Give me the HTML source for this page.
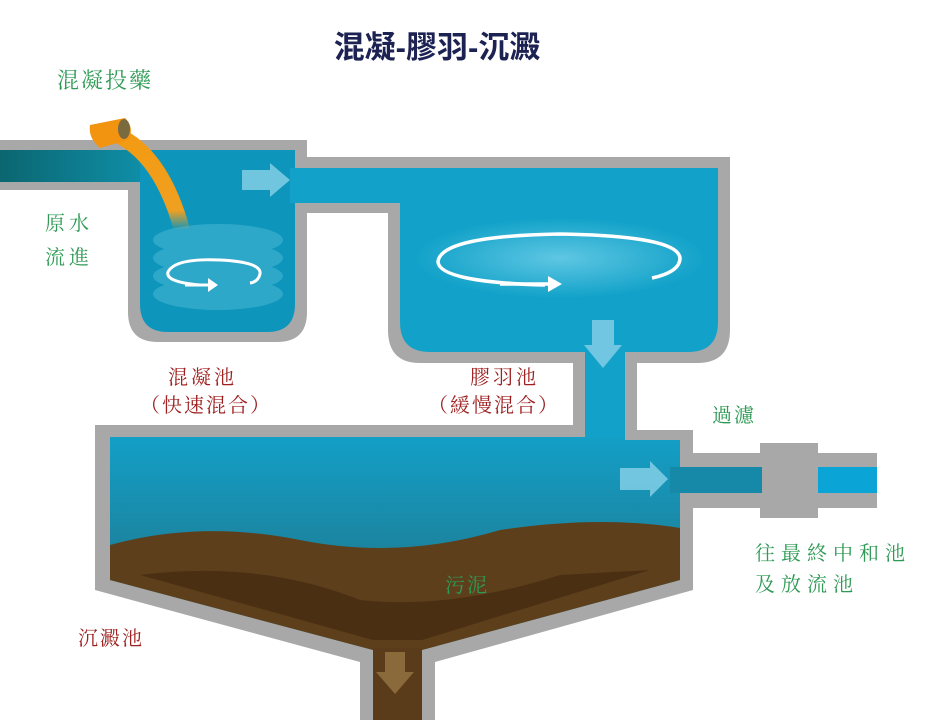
<!DOCTYPE html>
<html><head><meta charset="utf-8"><style>
html,body{margin:0;padding:0;background:#fff;width:940px;height:720px;overflow:hidden}
svg{display:block}
text{font-family:"Liberation Serif","Noto Serif CJK SC","Noto Sans CJK TC",serif}
.g{fill:#2f9a55;font-size:20px}
.r{fill:#9e2020;font-size:20px}
</style></head><body>
<svg width="940" height="720" viewBox="0 0 940 720">
<defs>
<linearGradient id="sed" x1="0" y1="0" x2="0" y2="1">
<stop offset="0" stop-color="#139fc7"/><stop offset="1" stop-color="#236c7c"/></linearGradient>
<linearGradient id="inl" x1="0" y1="0" x2="1" y2="0">
<stop offset="0" stop-color="#0b6670"/><stop offset="1" stop-color="#0f8fa8"/></linearGradient>
<linearGradient id="or" x1="0" y1="0" x2="0" y2="1">
<stop offset="0" stop-color="#f39a12"/><stop offset="0.8" stop-color="#f0a020"/><stop offset="1" stop-color="#f0a020" stop-opacity="0"/></linearGradient>
<radialGradient id="glow" cx="0.5" cy="0.5" r="0.5">
<stop offset="0" stop-color="#7fd6ee" stop-opacity="0.7"/><stop offset="1" stop-color="#7fd6ee" stop-opacity="0"/></radialGradient>
</defs>
<g fill="#a8a8a8">
<rect x="0" y="140" width="307" height="50"/>
<path d="M128 140 H307 V312 Q307 342 277 342 H158 Q128 342 128 312 Z"/>
<rect x="295" y="157" width="110" height="56"/>
<path d="M388 157 H730 V330 Q730 363 697 363 H420 Q388 363 388 330 Z"/>
<rect x="573" y="355" width="64" height="80"/>
<path d="M95 425 H587 V430 H693 V590 L435 662 V720 H360 V662 L95 590 Z"/>
<rect x="680" y="453" width="90" height="55"/>
<rect x="760" y="443" width="58" height="75"/>
<rect x="815" y="453" width="62" height="55"/>
</g>
<rect x="0" y="150" width="145" height="32" fill="url(#inl)"/>
<path d="M140 150 H295 V304 Q295 332 267 332 H168 Q140 332 140 304 Z" fill="#0d95bb"/>
<rect x="290" y="168" width="120" height="35" fill="#12a2c9"/>
<path d="M400 168 H718 V322 Q718 352 688 352 H430 Q400 352 400 322 Z" fill="#12a2c9"/>
<rect x="585" y="345" width="40" height="100" fill="#12a2c9"/>
<path d="M110 437 H625 V440 H680 V580 L422 650 H373 L110 580 Z" fill="url(#sed)"/>
<rect x="670" y="467" width="92" height="26" fill="#1789a8"/>
<rect x="818" y="467" width="59" height="26" fill="#0aa5d6"/>
<path d="M110 545 Q200 520 300 540 Q400 560 500 530 Q600 515 680 528 V580 L422 650 H373 L110 580 Z" fill="#5e3f1c"/>
<path d="M140 575 Q260 560 360 600 Q450 610 560 575 L650 570 L422 640 H373 Z" fill="#4a2f12"/>
<rect x="373" y="648" width="49" height="72" fill="#5a3b1a"/>
<path d="M385 652 H405 V672 H414 L395 694 L376 672 H385 Z" fill="#8a6a3a"/>
<g fill="#4fbcd8" opacity="0.5">
<ellipse cx="218" cy="240" rx="65" ry="16"/>
<ellipse cx="218" cy="258" rx="65" ry="16"/>
<ellipse cx="218" cy="276" rx="65" ry="16"/>
<ellipse cx="218" cy="294" rx="65" ry="16"/>
</g>
<path d="M200 285 Q165 282 168 272 Q175 258 220 260 Q262 262 260 274 Q258 282 250 283" fill="none" stroke="#fff" stroke-width="3"/>
<path d="M185 285 H210" stroke="#fff" stroke-width="3"/>
<path d="M208 278 L218 285 L208 292 Z" fill="#fff"/>
<path d="M110 132 Q160 150 182 230" fill="none" stroke="url(#or)" stroke-width="16"/>
<path d="M90 125 L125 118 Q135 128 128 140 L100 148 Q88 138 90 125Z" fill="#f29410"/>
<ellipse cx="124" cy="129" rx="6" ry="10" fill="#7a6a40"/>
<ellipse cx="560" cy="258" rx="145" ry="40" fill="url(#glow)"/>
<path d="M545 285 Q440 282 438 262 Q440 236 560 234 Q678 236 680 258 Q680 272 652 278" fill="none" stroke="#fff" stroke-width="3.5"/>
<path d="M500 284 H550" stroke="#fff" stroke-width="3.5"/>
<path d="M548 276 L562 284 L548 292 Z" fill="#fff"/>
<g fill="#7ccbe3" opacity="0.9">
<path d="M242 170 H270 V163 L290 180 L270 197 V190 H242 Z"/>
<path d="M592 320 H614 V345 H622 L603 368 L584 345 H592 Z"/>
<path d="M620 468 H650 V461 L668 479 L650 497 V490 H620 Z"/>
</g>
<text x="437" y="58" text-anchor="middle" style="font-family:'Liberation Sans','Noto Sans CJK TC',sans-serif;font-weight:bold;font-size:31px;fill:#1c2252">混凝-膠羽-沉澱</text>
<text class="g" x="57" y="88" style="font-size:22px;letter-spacing:2px">混凝投藥</text>
<text class="g" x="45" y="230" style="letter-spacing:4px">原水</text>
<text class="g" x="45" y="264" style="letter-spacing:4px">流進</text>
<text class="r" x="168" y="384" style="letter-spacing:3px">混凝池</text>
<text class="r" x="140" y="412" style="letter-spacing:2px">（快速混合）</text>
<text class="r" x="470" y="384" style="letter-spacing:3px">膠羽池</text>
<text class="r" x="428" y="412" style="letter-spacing:2px">（緩慢混合）</text>
<text class="g" x="712" y="422" style="letter-spacing:2px">過濾</text>
<text class="g" x="755" y="560" style="letter-spacing:6px">往最終中和池</text>
<text class="g" x="755" y="591" style="letter-spacing:6px">及放流池</text>
<text class="g" x="445" y="592" style="letter-spacing:2px">污泥</text>
<text class="r" x="78" y="645" style="letter-spacing:2px">沉澱池</text>
</svg>
</body></html>
